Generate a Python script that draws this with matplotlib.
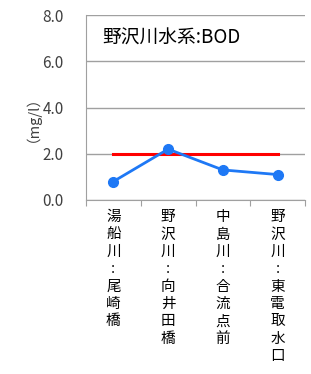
import matplotlib
matplotlib.use('Agg')
import matplotlib.pyplot as plt

plt.rcParams['font.family'] = ['Noto Sans CJK JP', 'DejaVu Sans']

# data
sites = ['湯船川:尾崎橋', '野沢川:向井田橋', '中島川:合流点前', '野沢川:東電取水口']
bod = [0.8, 2.2, 1.3, 1.1]
standard = [2.0, 2.0, 2.0, 2.0]
yticks = [0.0, 2.0, 4.0, 6.0, 8.0]

fig = plt.figure(figsize=(3.11, 3.74), dpi=100)
ax = fig.add_axes([86 / 311, 1 - 200 / 374, 219 / 311, 185 / 374])

x = range(len(sites))
ax.plot(x, standard, color='#FF0000', lw=2.2, zorder=2)
ax.plot(x, bod, color='#1E78F5', lw=2, marker='o', ms=7, zorder=3)

ax.set_xlim(-0.5, len(sites) - 0.5)
ax.set_ylim(0, 8)
ax.set_yticks(yticks)
ax.set_yticklabels([f'{v:.1f}' for v in yticks], fontsize=11, color='#404040')
ax.tick_params(axis='y', length=0, pad=16)
ax.yaxis.grid(True, color='#A0A0A0', lw=1)
ax.set_axisbelow(True)

ax.set_xticks([i - 0.5 for i in range(len(sites) + 1)])
ax.set_xticklabels([])
ax.tick_params(axis='x', length=4, color='#A0A0A0')
for s in ['top', 'right']:
    ax.spines[s].set_visible(False)
ax.spines['left'].set_color('#A0A0A0')
ax.spines['bottom'].set_color('#A0A0A0')

# vertical category labels (stacked characters)
for i, name in enumerate(sites):
    ax.text(i, -0.45, '\n'.join(name), ha='center', va='top', fontsize=10.5,
            linespacing=1.3, color='black', clip_on=False)

ax.text(-0.2, 7.0, '野沢川水系:BOD', fontsize=13.5, ha='left', va='center')

fig.text(25 / 311, 1 - 111 / 374, '（mg/l）', rotation=90, fontsize=10.5,
         ha='center', va='center', color='#404040')

fig.savefig('out.png', dpi=100)
